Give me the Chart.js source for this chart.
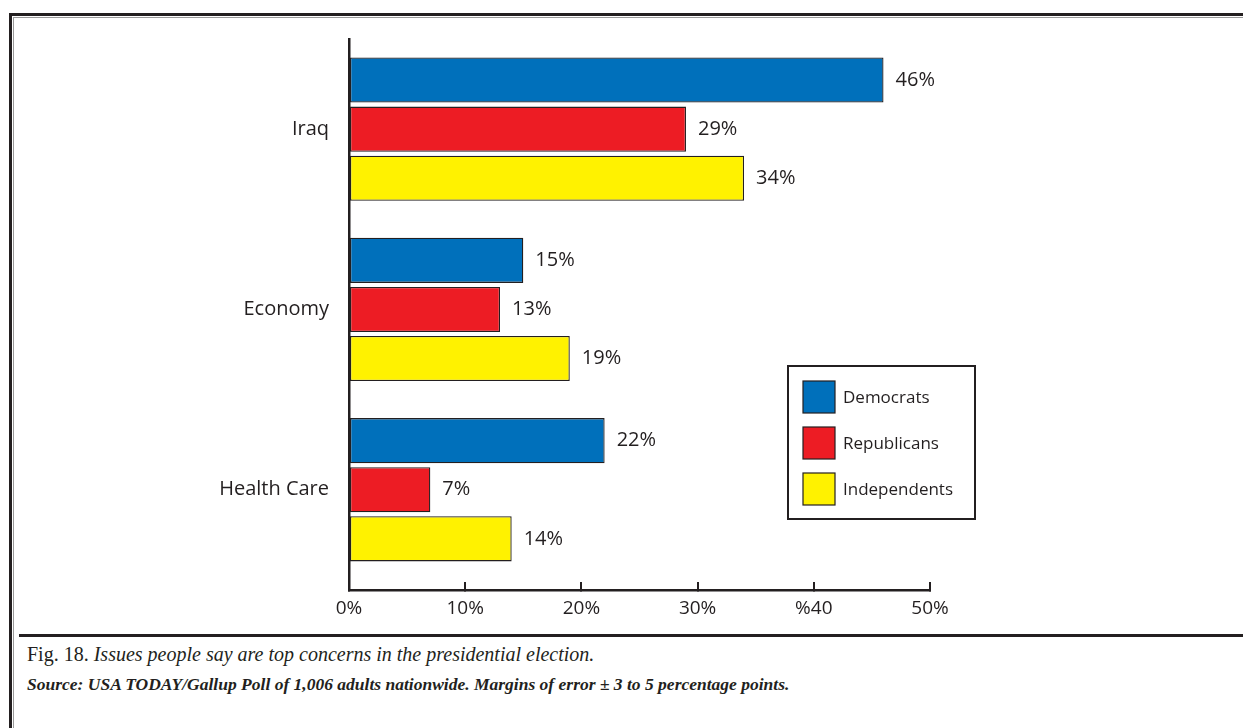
<!DOCTYPE html>
<html>
<head>
<meta charset="utf-8">
<script src="https://cdn.jsdelivr.net/npm/chart.js@4.4.0/dist/chart.umd.min.js"></script>
<style>
  html, body { margin: 0; padding: 0; background: #fff; }
  #wrap { position: relative; width: 1243px; height: 728px; overflow: hidden; background: #fff; }
  #c { position: absolute; left: 0; top: 0; }
  .ln { position: absolute; }
  .cap { position: absolute; left: 27px; font-family: "Liberation Serif", "DejaVu Serif", serif; color: #231f20; white-space: nowrap; }
</style>
</head>
<body>
<div id="wrap">
  <canvas id="c" width="1243" height="634"></canvas>
  <div class="ln" style="left:9px; top:13px; width:1300px; height:3px; background:#231f20;"></div>
  <div class="ln" style="left:13px; top:17px; width:1300px; height:1px; background:#9a9a9a;"></div>
  <div class="ln" style="left:9px; top:13px; width:3px; height:800px; background:#231f20;"></div>
  <div class="ln" style="left:13px; top:17px; width:1px; height:800px; background:#9a9a9a;"></div>
  <div class="ln" style="left:19px; top:634px; width:1300px; height:3px; background:#231f20;"></div>
  <div class="cap" id="cap1" style="top:643px; font-size:20px;">Fig. 18. <i>Issues people say are top concerns in the presidential election.</i></div>
  <div class="cap" id="cap2" style="top:674px; font-size:17.5px;"><b><i>Source: USA TODAY/Gallup Poll of 1,006 adults nationwide. Margins of error ± 3 to 5 percentage points.</i></b></div>
</div>
<script>
const categories = ['Iraq', 'Economy', 'Health Care'];
const seriesNames = ['Democrats', 'Republicans', 'Independents'];
const democrats = [46, 15, 22];
const republicans = [29, 13, 7];
const independents = [34, 19, 14];
const xTickLabels = ['0%', '10%', '20%', '30%', '%40', '50%'];
const seriesColors = ['#0070bb', '#ed1c24', '#fff200'];

const FONT = '"Open Sans", "Noto Sans", sans-serif';
const INK = '#231f20';

function toPoints(vals) { return vals.map((v, i) => ({ x: v, y: i })); }

const valueLabels = {
  id: 'valueLabels',
  afterDatasetsDraw(chart) {
    const ctx = chart.ctx;
    ctx.save();
    ctx.font = '20px ' + FONT;
    ctx.fillStyle = INK;
    ctx.textAlign = 'left';
    ctx.textBaseline = 'middle';
    chart.data.datasets.forEach((ds, di) => {
      const meta = chart.getDatasetMeta(di);
      meta.data.forEach((el, i) => {
        ctx.fillText(ds.data[i].x + '%', el.x + 12, el.y);
      });
    });
    ctx.restore();
  }
};

const boxLegend = {
  id: 'boxLegend',
  afterDraw(chart) {
    const ctx = chart.ctx;
    const x0 = 788, y0 = 366, w = 187, h = 153;
    ctx.save();
    ctx.fillStyle = '#fff';
    ctx.fillRect(x0, y0, w, h);
    ctx.lineWidth = 2;
    ctx.strokeStyle = INK;
    ctx.strokeRect(x0, y0, w, h);
    ctx.font = '17px ' + FONT;
    ctx.textAlign = 'left';
    ctx.textBaseline = 'middle';
    chart.data.datasets.forEach((ds, i) => {
      const sy = 381 + i * 46;
      ctx.fillStyle = ds.backgroundColor;
      ctx.fillRect(803, sy, 32, 32);
      ctx.lineWidth = 1.2;
      ctx.strokeStyle = INK;
      ctx.strokeRect(803, sy, 32, 32);
      ctx.fillStyle = INK;
      ctx.fillText(ds.label, 843, sy + 17);
    });
    ctx.restore();
  }
};

const datasets = [democrats, republicans, independents].map((vals, i) => ({
  label: seriesNames[i],
  data: toPoints(vals),
  backgroundColor: seriesColors[i],
  borderColor: INK,
  borderWidth: 1.3,
  borderSkipped: false,
  categoryPercentage: 0.817,
  barPercentage: 0.918
}));

new Chart(document.getElementById('c'), {
  type: 'bar',
  data: { datasets },
  options: {
    indexAxis: 'y',
    responsive: false,
    animation: false,
    layout: { padding: { top: 39, right: 313, bottom: 0, left: 0 } },
    plugins: { legend: { display: false }, tooltip: { enabled: false } },
    scales: {
      x: {
        type: 'linear',
        min: 0, max: 50,
        afterBuildTicks(s) { s.ticks = xTickLabels.map((t, i) => ({ value: i * 10 })); },
        afterFit(s) { s.height = 44; },
        ticks: {
          callback: (v, i) => xTickLabels[i],
          color: INK,
          font: { family: FONT, size: 19 },
          padding: 15,
          maxRotation: 0
        },
        grid: { display: true, drawOnChartArea: false, drawTicks: true, tickLength: -8, color: INK, lineWidth: 2 },
        border: { display: true, color: INK, width: 2.5 }
      },
      y: {
        type: 'linear',
        reverse: true,
        offset: false,
        min: -0.5, max: 2.556,
        afterBuildTicks(s) { s.ticks = categories.map((c, i) => ({ value: i })); },
        afterFit(s) { s.width = 349; },
        ticks: {
          callback: (v) => categories[v],
          color: INK,
          font: { family: FONT, size: 20 },
          padding: 20
        },
        grid: { display: false, drawTicks: false, offset: false },
        border: { display: true, color: INK, width: 2.5 }
      }
    }
  },
  plugins: [valueLabels, boxLegend]
});
</script>
</body>
</html>
